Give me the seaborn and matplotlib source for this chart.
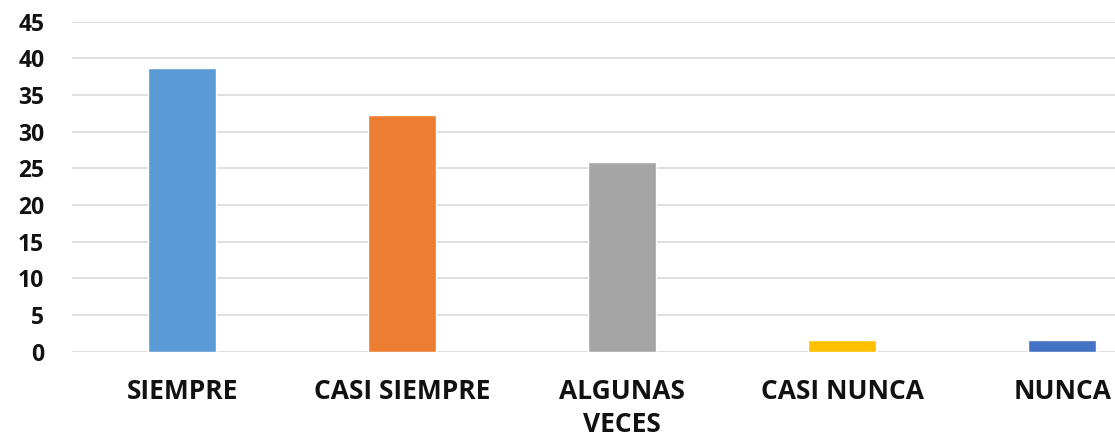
import matplotlib
matplotlib.use("Agg")
import matplotlib.pyplot as plt
import seaborn as sns
import pandas as pd

# values (percent)
categorias = ["SIEMPRE", "CASI SIEMPRE", "ALGUNAS\nVECES", "CASI NUNCA", "NUNCA"]
porcentajes = [38.7, 32.3, 25.8, 1.6, 1.6]
colores = ["#5B9BD5", "#ED7D31", "#A5A5A5", "#FFC000", "#4472C4"]
yticks = [0, 5, 10, 15, 20, 25, 30, 35, 40, 45]

df = pd.DataFrame({"categoria": categorias, "valor": porcentajes})

sns.set_style("white")
plt.rcParams["font.family"] = ["Open Sans", "DejaVu Sans"]

fig = plt.figure(figsize=(11.15, 4.4), dpi=100)
ax = fig.add_axes([0.0646, 0.2007, 0.9354, 0.7504])

sns.barplot(data=df, x="categoria", y="valor", hue="categoria",
            palette=colores, legend=False, width=0.31, saturation=1, ax=ax)

ax.set_ylim(0, 45)
ax.set_xlim(-0.5, 4.24)
ax.set_yticks(yticks)
ax.yaxis.grid(True, color="#D9D9D9", linewidth=1.2)
ax.set_axisbelow(True)
for s in ax.spines.values():
    s.set_visible(False)

ax.set_xlabel("")
ax.set_ylabel("")
ax.tick_params(axis="y", length=0, pad=20, labelsize=16.5)
ax.tick_params(axis="x", length=0, pad=19, labelsize=19)
for lab in ax.get_xticklabels() + ax.get_yticklabels():
    lab.set_fontweight("bold")
    lab.set_color("#111111")
for lab in ax.get_xticklabels():
    lab.set_verticalalignment("top")
    lab.set_linespacing(1.3)

fig.savefig("out.png", dpi=100)
